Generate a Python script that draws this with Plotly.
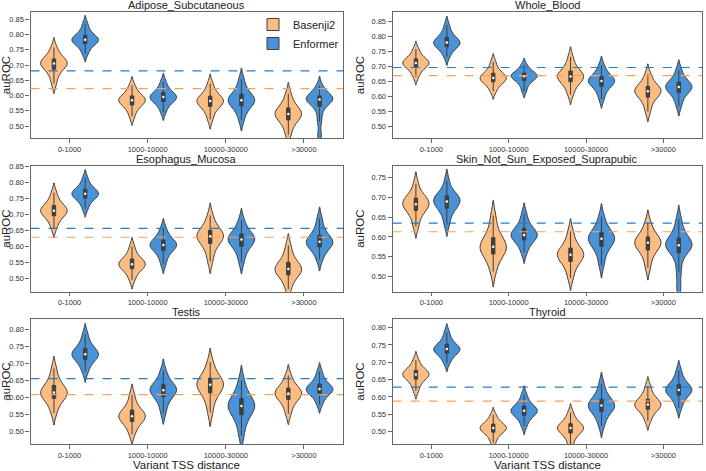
import numpy as np
import plotly.graph_objects as go
from plotly.subplots import make_subplots

TSS_BINS = ["0-1000", "1000-10000", "10000-30000", ">30000"]
TISSUES = ["Adipose_Subcutaneous", "Whole_Blood", "Esophagus_Mucosa",
           "Skin_Not_Sun_Exposed_Suprapubic", "Testis", "Thyroid"]

# bootstrapped auROC values, one list per TSS distance bin
adipose_basenji2 = [
    [0.639, 0.664, 0.678, 0.689, 0.696, 0.702, 0.705, 0.708, 0.713, 0.718, 0.727, 0.738, 0.758],
    [0.531, 0.551, 0.563, 0.571, 0.577, 0.582, 0.585, 0.587, 0.592, 0.597, 0.605, 0.616, 0.634],
    [0.522, 0.545, 0.558, 0.567, 0.574, 0.579, 0.582, 0.585, 0.590, 0.596, 0.605, 0.618, 0.639],
    [0.471, 0.497, 0.512, 0.523, 0.530, 0.537, 0.540, 0.543, 0.549, 0.557, 0.567, 0.581, 0.606],
]
adipose_enformer = [
    [0.737, 0.754, 0.764, 0.772, 0.777, 0.781, 0.783, 0.785, 0.790, 0.796, 0.804, 0.816, 0.836],
    [0.546, 0.565, 0.575, 0.583, 0.588, 0.593, 0.595, 0.597, 0.602, 0.608, 0.616, 0.627, 0.646],
    [0.520, 0.545, 0.559, 0.569, 0.576, 0.582, 0.585, 0.588, 0.595, 0.602, 0.613, 0.628, 0.654],
    [0.470, 0.515, 0.545, 0.565, 0.574, 0.581, 0.586, 0.588, 0.590, 0.594, 0.599, 0.606, 0.615, 0.632],
]
blood_basenji2 = [
    [0.665, 0.683, 0.693, 0.700, 0.705, 0.710, 0.712, 0.714, 0.719, 0.724, 0.731, 0.742, 0.759],
    [0.618, 0.634, 0.644, 0.651, 0.656, 0.660, 0.662, 0.665, 0.670, 0.676, 0.684, 0.696, 0.716],
    [0.607, 0.629, 0.642, 0.652, 0.658, 0.664, 0.667, 0.670, 0.676, 0.683, 0.693, 0.707, 0.732],
    [0.550, 0.575, 0.590, 0.601, 0.608, 0.615, 0.618, 0.621, 0.626, 0.632, 0.641, 0.654, 0.675],
]
blood_enformer = [
    [0.733, 0.751, 0.761, 0.768, 0.773, 0.778, 0.780, 0.783, 0.788, 0.795, 0.804, 0.817, 0.839],
    [0.619, 0.638, 0.648, 0.656, 0.661, 0.666, 0.668, 0.670, 0.673, 0.677, 0.683, 0.691, 0.705],
    [0.592, 0.614, 0.627, 0.637, 0.643, 0.649, 0.652, 0.654, 0.659, 0.665, 0.673, 0.685, 0.704],
    [0.568, 0.592, 0.606, 0.616, 0.623, 0.629, 0.632, 0.635, 0.640, 0.646, 0.655, 0.668, 0.690],
]
esophagus_basenji2 = [
    [0.658, 0.678, 0.690, 0.698, 0.704, 0.709, 0.712, 0.715, 0.720, 0.726, 0.735, 0.747, 0.768],
    [0.496, 0.515, 0.525, 0.533, 0.538, 0.543, 0.545, 0.548, 0.553, 0.559, 0.567, 0.579, 0.600],
    [0.554, 0.583, 0.600, 0.613, 0.621, 0.628, 0.632, 0.635, 0.641, 0.648, 0.658, 0.672, 0.697],
    [0.467, 0.491, 0.505, 0.514, 0.521, 0.527, 0.530, 0.533, 0.540, 0.548, 0.560, 0.576, 0.603],
]
esophagus_enformer = [
    [0.718, 0.736, 0.746, 0.753, 0.758, 0.763, 0.765, 0.767, 0.772, 0.777, 0.785, 0.795, 0.814],
    [0.546, 0.568, 0.581, 0.590, 0.597, 0.602, 0.605, 0.607, 0.612, 0.618, 0.626, 0.638, 0.657],
    [0.551, 0.578, 0.593, 0.604, 0.612, 0.619, 0.622, 0.625, 0.631, 0.637, 0.647, 0.660, 0.683],
    [0.559, 0.580, 0.592, 0.601, 0.607, 0.612, 0.615, 0.618, 0.625, 0.633, 0.645, 0.661, 0.688],
]
skin_basenji2 = [
    [0.626, 0.647, 0.660, 0.669, 0.675, 0.680, 0.683, 0.686, 0.692, 0.697, 0.702, 0.712, 0.735],
    [0.512, 0.536, 0.550, 0.559, 0.566, 0.572, 0.575, 0.579, 0.586, 0.595, 0.607, 0.624, 0.654],
    [0.496, 0.518, 0.531, 0.540, 0.547, 0.552, 0.555, 0.558, 0.563, 0.569, 0.579, 0.592, 0.614],
    [0.522, 0.546, 0.560, 0.569, 0.576, 0.582, 0.585, 0.587, 0.592, 0.598, 0.606, 0.618, 0.637],
]
skin_enformer = [
    [0.631, 0.653, 0.666, 0.675, 0.682, 0.687, 0.690, 0.693, 0.698, 0.703, 0.709, 0.718, 0.742],
    [0.560, 0.577, 0.587, 0.594, 0.599, 0.603, 0.605, 0.608, 0.613, 0.619, 0.627, 0.639, 0.659],
    [0.529, 0.554, 0.568, 0.579, 0.586, 0.592, 0.595, 0.598, 0.603, 0.609, 0.618, 0.630, 0.651],
    [0.470, 0.510, 0.540, 0.560, 0.568, 0.574, 0.578, 0.580, 0.583, 0.589, 0.597, 0.607, 0.621, 0.646],
]
testis_basenji2 = [
    [0.555, 0.578, 0.591, 0.600, 0.607, 0.612, 0.615, 0.618, 0.625, 0.633, 0.644, 0.659, 0.686],
    [0.492, 0.512, 0.523, 0.532, 0.538, 0.543, 0.545, 0.548, 0.554, 0.561, 0.570, 0.584, 0.608],
    [0.556, 0.587, 0.605, 0.617, 0.626, 0.634, 0.638, 0.641, 0.647, 0.655, 0.665, 0.680, 0.705],
    [0.552, 0.574, 0.587, 0.597, 0.603, 0.609, 0.612, 0.615, 0.620, 0.626, 0.634, 0.646, 0.666],
]
testis_enformer = [
    [0.676, 0.695, 0.707, 0.715, 0.721, 0.726, 0.728, 0.731, 0.737, 0.743, 0.753, 0.766, 0.788],
    [0.555, 0.580, 0.595, 0.605, 0.613, 0.619, 0.622, 0.625, 0.630, 0.636, 0.645, 0.658, 0.680],
    [0.488, 0.521, 0.540, 0.553, 0.563, 0.571, 0.575, 0.579, 0.586, 0.594, 0.606, 0.623, 0.651],
    [0.580, 0.597, 0.607, 0.614, 0.619, 0.623, 0.625, 0.627, 0.632, 0.638, 0.646, 0.658, 0.677],
]
thyroid_basenji2 = [
    [0.618, 0.635, 0.646, 0.653, 0.658, 0.663, 0.665, 0.667, 0.671, 0.675, 0.682, 0.691, 0.707],
    [0.468, 0.484, 0.493, 0.500, 0.504, 0.508, 0.510, 0.512, 0.515, 0.520, 0.526, 0.534, 0.548],
    [0.461, 0.480, 0.490, 0.498, 0.503, 0.508, 0.510, 0.512, 0.516, 0.521, 0.528, 0.538, 0.555],
    [0.531, 0.548, 0.559, 0.566, 0.571, 0.576, 0.578, 0.580, 0.586, 0.591, 0.600, 0.611, 0.631],
]
thyroid_enformer = [
    [0.697, 0.712, 0.721, 0.728, 0.732, 0.736, 0.738, 0.740, 0.745, 0.750, 0.758, 0.769, 0.787],
    [0.516, 0.533, 0.542, 0.549, 0.554, 0.558, 0.560, 0.562, 0.567, 0.572, 0.579, 0.589, 0.607],
    [0.516, 0.538, 0.551, 0.560, 0.567, 0.572, 0.575, 0.578, 0.584, 0.591, 0.600, 0.614, 0.638],
    [0.568, 0.587, 0.599, 0.607, 0.613, 0.618, 0.620, 0.623, 0.628, 0.634, 0.642, 0.655, 0.676],
]

# overall auROC per tissue (dashed lines)
overall_basenji2 = [0.623, 0.670, 0.629, 0.613, 0.609, 0.588]
overall_enformer = [0.681, 0.697, 0.657, 0.635, 0.656, 0.628]

basenji2 = [adipose_basenji2, blood_basenji2, esophagus_basenji2,
            skin_basenji2, testis_basenji2, thyroid_basenji2]
enformer = [adipose_enformer, blood_enformer, esophagus_enformer,
            skin_enformer, testis_enformer, thyroid_enformer]

Y_RANGES = [(0.461, 0.874), (0.462, 0.882), (0.459, 0.853),
            (0.461, 0.781), (0.463, 0.832), (0.464, 0.825)]

W, H = 706, 471
COLS_PX = [(30.5, 343.0), (392.7, 702.0)]
ROWS_PX = [(12.0, 138.0), (165.5, 291.7), (319.0, 444.0)]

ORANGE = "#FCBD82"
BLUE = "#4A92D6"
ORANGE_LINE = "#F5A25E"
BLUE_LINE = "#2B7BBF"
EDGE = "#3f3f3f"
FRAME = "#666666"
FONT = "Liberation Sans"

models = [("Basenji2", basenji2, ORANGE, -0.2), ("Enformer", enformer, BLUE, 0.2)]

fig = make_subplots(rows=3, cols=2)

for k, tissue in enumerate(TISSUES):
    row, col = k // 2 + 1, k % 2 + 1
    for name, samples, fill, offset in models:
        for i, vals in enumerate(samples[k]):
            pos = i + offset
            fig.add_trace(go.Violin(
                y=vals, x0=pos, width=0.34, name=name, legendgroup=name,
                showlegend=(k == 0 and i == 0),
                fillcolor=fill, opacity=1,
                line=dict(color=EDGE, width=1),
                box=dict(visible=True, width=0.13, fillcolor=EDGE,
                         line=dict(color=EDGE, width=1)),
                points=False, hoverinfo="skip",
            ), row=row, col=col)
            fig.add_trace(go.Scatter(
                x=[pos], y=[np.median(vals)], mode="markers",
                marker=dict(color="white", size=2.5),
                showlegend=False, hoverinfo="skip",
            ), row=row, col=col)
    fig.add_hline(y=overall_enformer[k], line=dict(color=BLUE_LINE, width=1.2, dash="dash"),
                  row=row, col=col)
    fig.add_hline(y=overall_basenji2[k], line=dict(color=ORANGE_LINE, width=1.2, dash="dash"),
                  row=row, col=col)

for k, tissue in enumerate(TISSUES):
    r, c = k // 2, k % 2
    suffix = "" if k == 0 else str(k + 1)
    x0, x1 = COLS_PX[c]
    y0, y1 = ROWS_PX[r]
    fig.layout["xaxis" + suffix].update(
        domain=[x0 / W, x1 / W], type="linear", range=[-0.5, 3.5], automargin=False,
        tickvals=list(range(len(TSS_BINS))), ticktext=TSS_BINS,
        showline=True, mirror=True, linecolor=FRAME, linewidth=1.3,
        ticks="outside", ticklen=3.5, tickcolor=FRAME, showgrid=False, zeroline=False,
        tickfont=dict(size=7.5, color="#333", family=FONT),
    )
    fig.layout["yaxis" + suffix].update(
        domain=[1 - y1 / H, 1 - y0 / H], range=list(Y_RANGES[k]), automargin=False,
        tick0=0.5, dtick=0.05, tickformat=".2f",
        showline=True, mirror=True, linecolor=FRAME, linewidth=1.3,
        ticks="outside", ticklen=4, tickcolor=FRAME, showgrid=False, zeroline=False,
        tickfont=dict(size=7.5, color="#333", family=FONT),
        title=dict(text="auROC", font=dict(size=11.5, color="#222", family=FONT), standoff=4),
    )
    fig.add_annotation(
        text=tissue, xref=f"x{suffix} domain", yref=f"y{suffix} domain",
        x=0.5, y=1, xanchor="center", yanchor="bottom", yshift=-1, showarrow=False,
        font=dict(size=11, color="#222", family=FONT),
    )
    if r == 2:
        fig.add_annotation(
            text="Variant TSS distance", xref=f"x{suffix} domain", yref="paper",
            x=0.5, y=0, xanchor="center", yanchor="bottom", yshift=-2, showarrow=False,
            font=dict(size=11.5, color="#222", family=FONT),
        )

fig.update_layout(
    width=W, height=H, margin=dict(l=0, r=0, t=0, b=0),
    paper_bgcolor="white", plot_bgcolor="white",
    showlegend=True, violinmode="overlay",
    legend=dict(x=253 / W, y=1 - 10 / H, xanchor="left", yanchor="top",
                bgcolor="rgba(0,0,0,0)", font=dict(size=11, color="#222", family=FONT),
                tracegroupgap=0, itemwidth=30),
    font=dict(family=FONT),
)

# drop the page's default body margin so the figure sits at the window origin
fig.write_html("out.html", config={"displayModeBar": False},
               post_script="document.body.style.margin='0px';")
